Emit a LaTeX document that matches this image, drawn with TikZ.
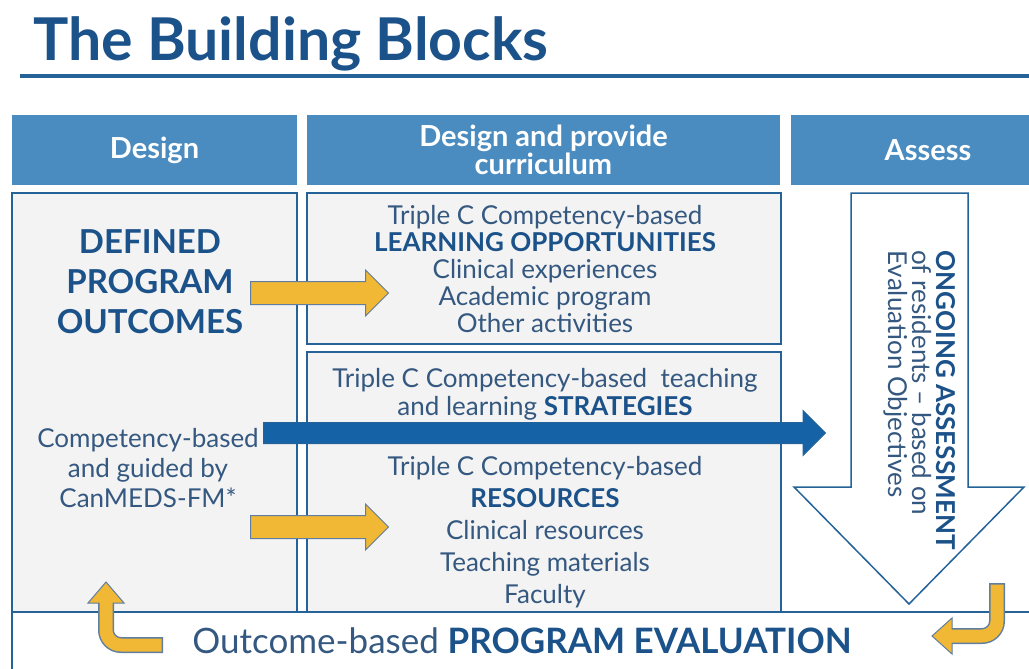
\documentclass[tikz,border=0pt]{standalone}
\usepackage{fontspec}
\setmainfont{Lato}
\usetikzlibrary{shapes.arrows}
\definecolor{hd}{RGB}{74, 140, 192}
\definecolor{dk}{RGB}{28, 82, 138}
\definecolor{tx}{RGB}{52, 88, 128}
\definecolor{ln}{RGB}{36, 98, 152}
\definecolor{gy}{RGB}{243, 243, 243}
\definecolor{yl}{RGB}{240, 184, 52}
\definecolor{bl}{RGB}{22, 98, 166}
\definecolor{ol}{RGB}{96, 126, 160}

\begin{document}
\begin{tikzpicture}[x=1pt, y=1pt,
every node/.style={inner sep=0pt, text=tx, font=\fontsize{26}{27}\selectfont},
head/.style={fill=hd, text=white, minimum height=70pt, align=center, font=\fontsize{29}{26}\selectfont\bfseries},
panel/.style={fill=gy, draw=ln, line width=2pt},
yarrow/.style={single arrow, anchor=tail, fill=yl, draw=ol, line width=1pt, inner ysep=11pt, single arrow head extend=11.5pt, minimum height=138pt},
hookline/.style={line width=16pt, ol, rounded corners=15pt},
hookfill/.style={line width=13pt, yl, rounded corners=15pt, shorten <=1.5pt}]
\useasboundingbox (0,0) rectangle (1029,-669);
% title
\node (title) [anchor=base west, text=dk, font=\fontsize{59}{62}\selectfont\bfseries] at (33,-61) {The Building Blocks};
\coordinate (ruleL) at (20,-76);
\coordinate (ruleR) at (1029,-76);
\draw [line width=4pt, ln] (ruleL) -- (ruleR);
% column heads
\node (hdDesign) [head, minimum width=285pt] at (154.5,-150) {Design};
\node (hdCurr) [head, minimum width=473pt] at (543.5,-150) {Design and provide\\curriculum};
\node (hdAssess) [head, minimum width=274pt] at (928,-150) {Assess};
% panels
\node (design) [panel, minimum width=285pt, minimum height=419pt] at (154.5,-402.5) {};
\node (learn) [panel, minimum width=474pt, minimum height=151pt] at (544,-268.5) {};
\node (teach) [panel, minimum width=474pt, minimum height=260pt] at (544,-482) {};
\coordinate (evalL) at (12,-669);
\coordinate (evalR) at (1029,-612);
\draw [line width=2pt, ln] (evalL) |- (evalR);
% big arrow
\draw [fill=white, draw=ln, line width=1.5pt] (851,-193) -- (968,-193) -- (968,-487) -- (1024,-487) -- (909,-604) -- (794,-487) -- (851,-487) -- cycle;
\node (ongoing) [rotate=-90, align=left, font=\fontsize{26}{24}\selectfont] at (920,-400) {\textbf{\color{dk}ONGOING ASSESSMENT}\\of residents -- based on\\Evaluation Objectives};
% texts
\node (outcomes) [align=center, text=dk, font=\fontsize{33}{40}\selectfont\bfseries] at (150,-282) {DEFINED\\PROGRAM\\OUTCOMES};
\node (canmeds) [align=center, font=\fontsize{26}{30}\selectfont] at (148,-468) {Competency-based\\and guided by\\CanMEDS-FM*};
\node (opps) [align=center] at (545,-269) {Triple C Competency-based\\\textbf{\color{dk}LEARNING OPPORTUNITIES}\\Clinical experiences\\Academic program\\Other activities};
\node (strat) [align=center, font=\fontsize{26}{28}\selectfont] at (545,-394) {Triple C Competency-based\ \ teaching\\and learning \textbf{\color{dk}STRATEGIES}};
\node (res) [align=center, font=\fontsize{26}{32}\selectfont] at (545,-532) {Triple C Competency-based\\\textbf{\color{dk}RESOURCES}\\Clinical resources\\Teaching materials\\Faculty};
\node (evaluation) [font=\fontsize{35}{38}\selectfont] at (522,-641) {Outcome-based \textbf{\color{dk}PROGRAM EVALUATION}};
% arrows
\node (arrLearn) [yarrow] at (250,-293) {};
\node (arrRes) [yarrow] at (250,-527) {};
\node (arrStrat) [single arrow, anchor=tail, fill=bl, draw=ln, line width=1pt, inner ysep=10pt, single arrow head extend=12pt, minimum height=562pt] at (263,-433) {};
% hooks
\draw [hookline] (163,-645) -- (106,-645) -- (106,-603);
\draw [fill=yl, draw=ol, line width=1pt] (88,-603) -- (124,-603) -- (106,-582) -- cycle;
\draw [hookfill] (163,-645) -- (106,-645) -- (106,-602);
\draw [hookline] (997,-583) -- (997,-636) -- (952,-636);
\draw [fill=yl, draw=ol, line width=1pt] (952,-618) -- (952,-654) -- (932,-636) -- cycle;
\draw [hookfill] (997,-583) -- (997,-636) -- (951,-636);
\end{tikzpicture}
\end{document}
